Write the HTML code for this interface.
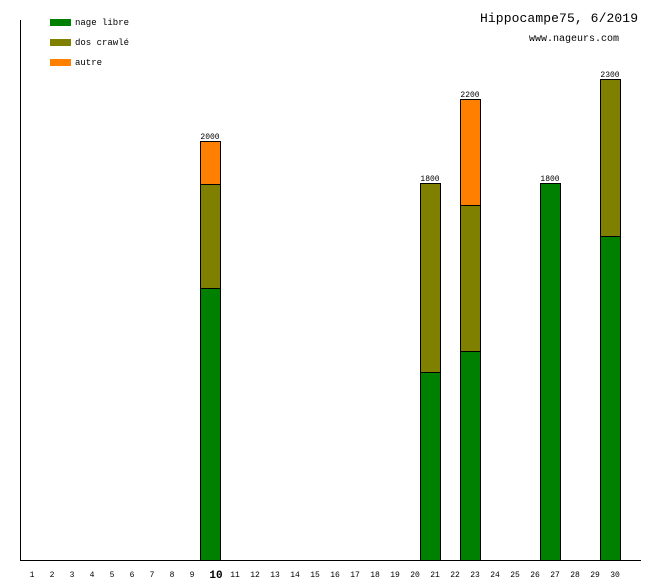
<!DOCTYPE html>
<html><head><meta charset="utf-8"><style>
body{margin:0;background:#fff;}
svg text{font-family:"Liberation Mono",monospace;fill:#000;}
</style></head><body>
<svg width="660" height="580" xmlns="http://www.w3.org/2000/svg">
<rect width="660" height="580" fill="#fff"/>
<line x1="20.5" y1="20" x2="20.5" y2="560" stroke="#000"/>
<line x1="20" y1="560.5" x2="641" y2="560.5" stroke="#000"/>
<rect x="50" y="19" width="21" height="7" fill="#008000"/>
<rect x="50" y="39" width="21" height="7" fill="#808000"/>
<rect x="50" y="59" width="21" height="7" fill="#ff8000"/>
<text x="75" y="25" font-size="9">nage libre</text>
<text x="75" y="45" font-size="9">dos crawlé</text>
<text x="75" y="65" font-size="9">autre</text>
<text x="638" y="22" font-size="13" text-anchor="end" textLength="158">Hippocampe75, 6/2019</text>
<text x="619" y="41" font-size="10" text-anchor="end">www.nageurs.com</text>
<g stroke="#000" stroke-width="1">
<rect x="200.5" y="288.5" width="20" height="272" fill="#008000"/>
<rect x="200.5" y="184.5" width="20" height="104" fill="#808000"/>
<rect x="200.5" y="141.5" width="20" height="43" fill="#ff8000"/>
<rect x="420.5" y="372.5" width="20" height="188" fill="#008000"/>
<rect x="420.5" y="183.5" width="20" height="189" fill="#808000"/>
<rect x="460.5" y="351.5" width="20" height="209" fill="#008000"/>
<rect x="460.5" y="205.5" width="20" height="146" fill="#808000"/>
<rect x="460.5" y="99.5" width="20" height="106" fill="#ff8000"/>
<rect x="540.5" y="183.5" width="20" height="377" fill="#008000"/>
<rect x="600.5" y="236.5" width="20" height="324" fill="#008000"/>
<rect x="600.5" y="79.5" width="20" height="157" fill="#808000"/>
</g>
<g font-size="8" text-anchor="middle">
<text x="210" y="139">2000</text>
<text x="430" y="181">1800</text>
<text x="470" y="97">2200</text>
<text x="550" y="181">1800</text>
<text x="610" y="77">2300</text>
</g>
<g font-size="8" text-anchor="middle">
<text x="32" y="577">1</text><text x="52" y="577">2</text><text x="72" y="577">3</text><text x="92" y="577">4</text><text x="112" y="577">5</text><text x="132" y="577">6</text><text x="152" y="577">7</text><text x="172" y="577">8</text><text x="192" y="577">9</text>
<text x="216" y="578" font-size="11" font-weight="bold">10</text>
<text x="235" y="577">11</text><text x="255" y="577">12</text><text x="275" y="577">13</text><text x="295" y="577">14</text><text x="315" y="577">15</text><text x="335" y="577">16</text><text x="355" y="577">17</text><text x="375" y="577">18</text><text x="395" y="577">19</text><text x="415" y="577">20</text><text x="435" y="577">21</text><text x="455" y="577">22</text><text x="475" y="577">23</text><text x="495" y="577">24</text><text x="515" y="577">25</text><text x="535" y="577">26</text><text x="555" y="577">27</text><text x="575" y="577">28</text><text x="595" y="577">29</text><text x="615" y="577">30</text>
</g>
</svg>
</body></html>
